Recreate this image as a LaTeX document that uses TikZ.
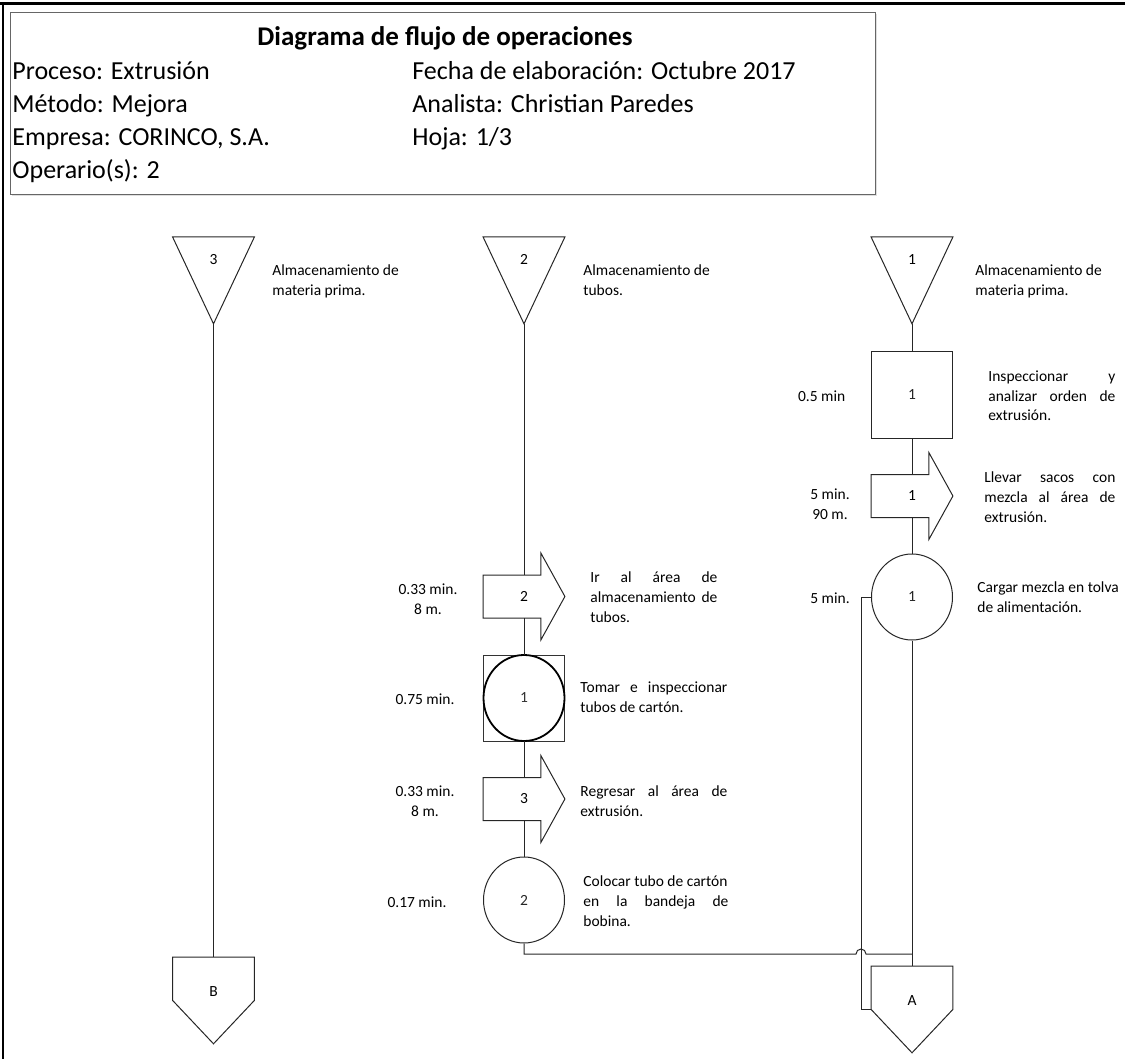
\documentclass[tikz,border=0pt]{standalone}
\usepackage{fontspec}
\setmainfont{Carlito}
\usetikzlibrary{shapes.geometric,calc,shadows}

% font sizes
\newcommand\smallfnt{\fontsize{7.75pt}{10pt}\selectfont}
\newcommand\hdrfnt{\fontsize{13pt}{16.5pt}\selectfont}
% stacked label lines: first baseline is the node baseline
\newcommand\lbllines[1]{\vtop{\baselineskip=10pt #1}}
\newcommand\jl[2]{\hbox{\makebox[#1][s]{#2}}}
\newcommand\pl[1]{\hbox{#1}}

\tikzset{
  flow/.style={line width=0.5pt, black!85},
  shapebox/.style={inner sep=0pt, minimum width=40.5pt, minimum height=43pt, font=\smallfnt},
  storenode/.style={shapebox, anchor=north, text height=13.5pt, text depth=29.5pt},
  endnode/.style={shapebox, anchor=north, text height=19.75pt, text depth=23.25pt},
  movenode/.style={shapebox},
  opnode/.style={shapebox, ellipse, draw, flow, fill=white},
  insnode/.style={shapebox, rectangle, draw, flow, fill=white},
  desc/.style={anchor=base west, inner sep=0pt, font=\smallfnt},
  timelbl/.style={anchor=center, align=center, inner sep=0pt, font=\smallfnt},
  hdrtxt/.style={anchor=base west, inner sep=0pt, font=\hdrfnt},
}

\begin{document}
\begin{tikzpicture}[x=0.5pt, y=-0.5pt]
\useasboundingbox (0,0) rectangle (1125,1059);

% sheet frame
\draw[line width=1.5pt] (0,4) -- (1125,4);
\draw[line width=1pt] (3,4) -- (3,1059);

% heading block
\node[draw=black!60, line width=0.6pt, fill=white, anchor=north west, inner sep=0pt,
      minimum width=432.5pt, minimum height=91pt,
      drop shadow={opacity=0.25, shadow xshift=0.8pt, shadow yshift=-0.8pt}] (hdr) at (10,12) {};
\node[anchor=base, inner sep=0pt, font=\fontsize{13.5pt}{16.5pt}\selectfont\bfseries] (title) at (445,46) {Diagrama de flujo de operaciones};
\node[hdrtxt] (proc) at (12,80) {Proceso: Extrusión};
\node[hdrtxt] (meth) at (12,113) {Método: Mejora};
\node[hdrtxt] (firm) at (12,146) {Empresa: CORINCO, S.A.};
\node[hdrtxt] (oper) at (12,179) {Operario(s): 2};
\node[hdrtxt] (date) at (412,80) {Fecha de elaboración: Octubre 2017};
\node[hdrtxt] (anal) at (412,113) {Analista: Christian Paredes};
\node[hdrtxt] (page) at (412,146) {Hoja: 1/3};

% ---------- symbols ----------
% storage triangles
\node[storenode] (t3) at (213.5,237) {3};
\node[storenode] (t2) at (524,237) {2};
\node[storenode] (t1) at (912,237) {1};

% right column
\node[insnode] (s1) at (912,395) {1};
\node[movenode] (a1) at (912,496) {1};
\node[opnode] (c1) at (912,597) {1};
\node[endnode] (pa) at (912,966) {A};

% middle column
\node[movenode] (a2) at (524,596.5) {2};
\node[rectangle, draw, line width=0.4pt, black!80, fill=white, shapebox] (bc) at (524,698) {1};
\node[movenode] (a3) at (524,799) {3};
\node[opnode] (c2) at (524,900) {2};

% left column
\node[endnode] (pb) at (213.5,957) {B};

% ---------- symbol outlines ----------
\foreach \t in {t1,t2,t3}{
  \draw[flow] (\t.north west) -- (\t.north east) -- (\t.south) -- cycle;
}
\foreach \p in {pa,pb}{
  \draw[flow] (\p.north west) -- (\p.north east) -- (\p.east) -- (\p.south) -- (\p.west) -- cycle;
}
\foreach \a in {a1,a2,a3}{
  \draw[flow]
    ([yshift=10.75pt]\a.west) -- ([yshift=10.75pt,xshift=-12pt]\a.east)
    -- ([xshift=-12pt]\a.north east) -- (\a.east) -- ([xshift=-12pt]\a.south east)
    -- ([yshift=-10.75pt,xshift=-12pt]\a.east) -- ([yshift=-10.75pt]\a.west) -- cycle;
}
% combined operation / inspection
\draw[line width=0.9pt, black] (bc.center) ellipse[x radius=20.25pt, y radius=21.5pt];

% ---------- connectors ----------
\coordinate (j) at (c1.south |- 0,954);
\coordinate (jx) at ($(c1.west)+(-10,0)$);
\coordinate (hopL) at ($(jx |- j)+(-5,0)$);

\draw[flow] (t3.south) -- (pb.north);

\draw[flow] (t2.south) -- ([yshift=10.75pt]a2.center);
\draw[flow] ([yshift=-10.75pt]a2.center) -- (bc.north);
\draw[flow] (bc.south) -- ([yshift=10.75pt]a3.center);
\draw[flow] ([yshift=-10.75pt]a3.center) -- (c2.north);
\draw[flow] (c2.south) -- (c2.south |- j) -- (hopL) arc[start angle=180, end angle=0, radius=2.5pt] -- (j);

\draw[flow] (t1.south) -- (s1.north);
\draw[flow] (s1.south) -- ([yshift=10.75pt]a1.center);
\draw[flow] ([yshift=-10.75pt]a1.center) -- (c1.north);
\draw[flow] (c1.south) -- (pa.north);
\draw[flow] (c1.west) -- (jx) |- (pa.west);

% ---------- descriptions ----------
\node[desc] (d3) at (272,276) {\lbllines{\pl{Almacenamiento de}\pl{materia prima.}}};
\node[desc] (d2) at (583,276) {\lbllines{\pl{Almacenamiento de}\pl{tubos.}}};
\node[desc] (d1) at (975,276) {\lbllines{\pl{Almacenamiento de}\pl{materia prima.}}};

\node[desc] (ds1) at (988,381) {\lbllines{\jl{63.5pt}{Inspeccionar y}\jl{63.5pt}{analizar orden de}\pl{extrusión.}}};
\node[desc] (da1) at (984,482) {\lbllines{\jl{65.5pt}{Llevar sacos con}\jl{65.5pt}{mezcla al área de}\pl{extrusión.}}};
\node[desc] (dc1) at (977,592) {\lbllines{\pl{Cargar mezcla en tolva}\pl{de alimentación.}}};

\node[desc] (da2) at (590,582) {\lbllines{\jl{63.5pt}{Ir al área de}\jl{63.5pt}{almacenamiento de}\pl{tubos.}}};
\node[desc] (dbc) at (580,692) {\lbllines{\jl{73.5pt}{Tomar e inspeccionar}\pl{tubos de cartón.}}};
\node[desc] (da3) at (580,796) {\lbllines{\jl{73.5pt}{Regresar al área de}\pl{extrusión.}}};
\node[desc] (dc2) at (583,886) {\lbllines{\pl{Colocar tubo de cartón}\jl{72.5pt}{en la bandeja de}\pl{bobina.}}};

% ---------- times and distances ----------
\node[timelbl] (ts1) at (821.7,396.7) {0.5 min};
\node[timelbl] (ta1) at (830,504) {5 min.\\90 m.};
\node[timelbl] (tc1) at (830,598) {5 min.};
\node[timelbl] (ta2) at (428,599) {0.33 min.\\8 m.};
\node[timelbl] (tbc) at (425,699) {0.75 min.};
\node[timelbl] (ta3) at (425,801) {0.33 min.\\8 m.};
\node[timelbl] (tc2) at (417,902) {0.17 min.};
\end{tikzpicture}
\end{document}
